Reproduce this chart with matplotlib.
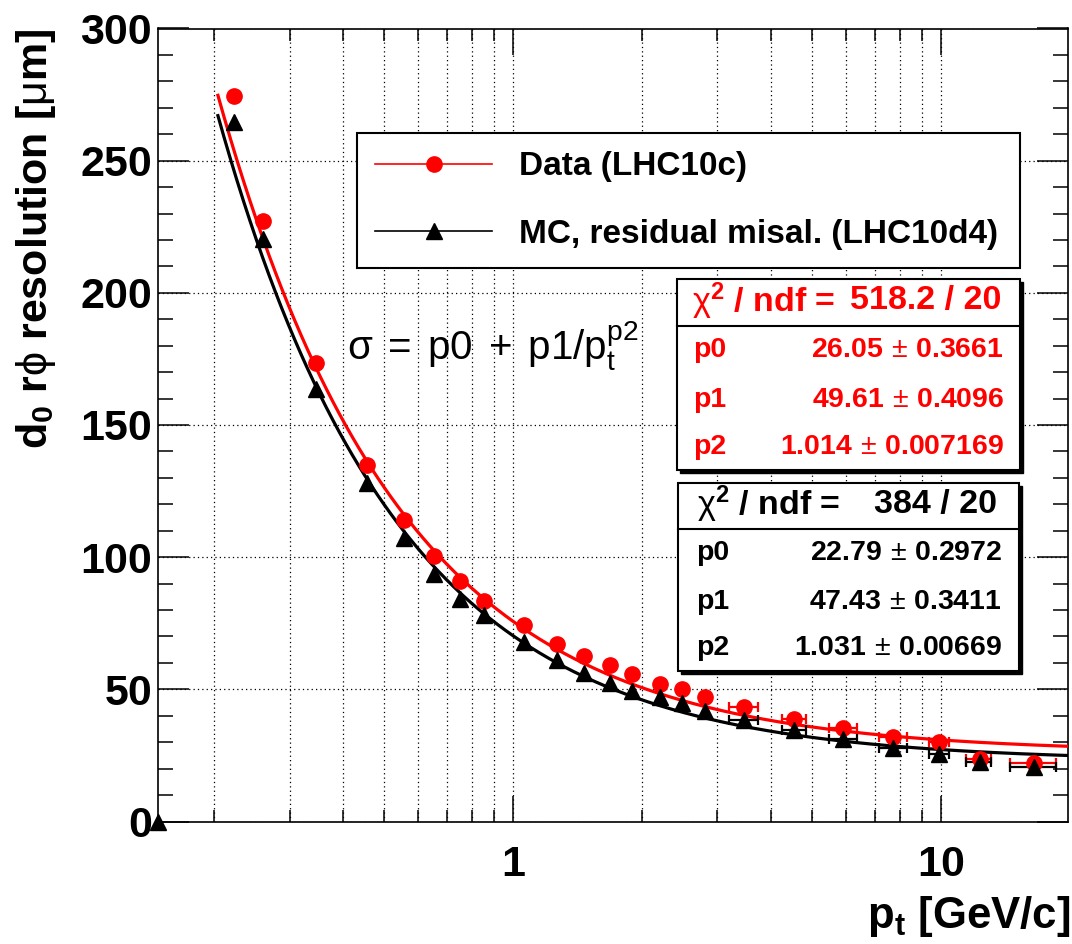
import numpy as np
import matplotlib
matplotlib.use("Agg")
import matplotlib.pyplot as plt
from matplotlib.patches import Rectangle
from matplotlib.lines import Line2D
from matplotlib.ticker import LogLocator, MultipleLocator, NullFormatter, FuncFormatter

plt.rcParams["font.family"] = ["Liberation Sans", "DejaVu Sans"]
plt.rcParams["font.weight"] = "bold"
plt.rcParams["mathtext.fontset"] = "custom"
plt.rcParams["mathtext.rm"] = "Liberation Sans:weight=normal"
plt.rcParams["mathtext.bf"] = "Liberation Sans:weight=bold"
plt.rcParams["mathtext.it"] = "Liberation Sans:italic:weight=normal"
plt.rcParams["mathtext.fallback"] = "stixsans"

# ------------ data -------------------------------
pt = [0.222, 0.26, 0.346, 0.454, 0.554, 0.654, 0.751, 0.853, 1.057, 1.266,
      1.466, 1.687, 1.897, 2.198, 2.483, 2.80, 3.46, 4.535, 5.885, 7.70,
      9.91, 12.3, 16.5]
data_sigma = [274.6, 227.3, 173.4, 135.0, 113.9, 100.3, 90.9, 83.4, 74.3, 67.3,
              62.5, 59.1, 55.7, 52.2, 50.1, 47.2, 43.4, 38.6, 35.2, 31.8,
              30.2, 23.6, 22.2]
mc_sigma = [264.5, 220.4, 163.7, 128.0, 107.4, 93.8, 84.0, 78.0, 67.9, 61.0,
            56.0, 52.5, 49.4, 47.2, 44.7, 41.9, 38.4, 34.6, 31.2, 27.7,
            25.5, 22.6, 20.7]
pt_err_lo = [0] * 16 + [0.27, 0.28, 0.42, 0.54, 0.56, 0.85, 2.0]
pt_err_hi = [0] * 16 + [0.28, 0.30, 0.48, 0.64, 0.52, 0.80, 2.1]

# empty MC bin drawn on the left edge
mc_edge_pt = [0.148]
mc_edge_sigma = [0.0]

# fit sigma = p0 + p1 / pt^p2
par_names = ["p0", "p1", "p2"]
data_par = [26.05, 49.61, 1.014]
data_par_err = [0.3661, 0.4096, 0.007169]
mc_par = [22.79, 47.43, 1.031]
mc_par_err = [0.2972, 0.3411, 0.00669]
data_chi2, mc_chi2, ndf = 518.2, 384, 20
fit_range = (0.204, 19.8)

W, H = 1072, 944


def fpx(x, y):
    return x / W, 1 - y / H


fig = plt.figure(figsize=(W / 100, H / 100), dpi=100)
ax = fig.add_axes([158.3 / W, 1 - 821.5 / H, (1068 - 158.3) / W, (821.5 - 28.5) / H])
ax.set_xscale("log")
ax.set_xlim(0.148, 19.8)
ax.set_ylim(0, 300)

ax.xaxis.set_major_locator(LogLocator(base=10))
ax.xaxis.set_minor_locator(LogLocator(base=10, subs=np.arange(2, 10)))
ax.xaxis.set_minor_formatter(NullFormatter())
ax.xaxis.set_major_formatter(FuncFormatter(lambda v, _: f"{v:g}"))
ax.yaxis.set_major_locator(MultipleLocator(50))
ax.yaxis.set_minor_locator(MultipleLocator(10))

grid_style = dict(color="black", linestyle=(0, (1, 2.5)), linewidth=0.9)
ax.grid(axis="x", which="both", **grid_style)
ax.grid(axis="y", which="major", **grid_style)
ax.set_axisbelow(True)

ax.tick_params(which="both", direction="in", top=True, right=True, width=1.1)
ax.tick_params(axis="x", which="major", length=19, pad=17, labelsize=31)
ax.tick_params(axis="x", which="minor", length=8.6)
ax.tick_params(axis="y", which="major", length=22, pad=4.5, labelsize=31)
ax.tick_params(axis="y", which="minor", length=11)
for sp in ax.spines.values():
    sp.set_linewidth(1.2)

# fit curves
xf = np.geomspace(fit_range[0], fit_range[1], 400)
ax.plot(xf, data_par[0] + data_par[1] / xf ** data_par[2], color="red", lw=2.3, zorder=3)
ax.plot(xf, mc_par[0] + mc_par[1] / xf ** mc_par[2], color="black", lw=2.3, zorder=3)

# points
ax.errorbar(pt, data_sigma, xerr=[pt_err_lo, pt_err_hi], fmt="none", ecolor="red",
            elinewidth=1.6, capsize=3.5, capthick=1.6, zorder=4)
ax.errorbar(pt, mc_sigma, xerr=[pt_err_lo, pt_err_hi], fmt="none", ecolor="black",
            elinewidth=1.6, capsize=3.5, capthick=1.6, zorder=4)
ax.plot(pt, data_sigma, "o", color="red", ms=11, zorder=5)
ax.plot(pt, mc_sigma, "^", color="black", ms=11.5, zorder=6)
ax.plot(mc_edge_pt, mc_edge_sigma, "^", color="black", ms=11.5, zorder=6, clip_on=False)

# legend
handles = [Line2D([], [], color="red", marker="o", ms=11, lw=1.2),
           Line2D([], [], color="black", marker="^", ms=11.5, lw=1.2)]
x0, y0 = fpx(357, 266)
x1, y1 = fpx(1020, 133)
leg = ax.legend(handles, ["Data (LHC10c)", "MC, residual misal. (LHC10d4)"],
                loc="upper left", bbox_to_anchor=(x0, y0, x1 - x0, y1 - y0),
                bbox_transform=fig.transFigure, mode="expand", fontsize=24,
                frameon=True, fancybox=False, edgecolor="black", framealpha=1,
                borderpad=0.55, labelspacing=1.1, handlelength=3.5,
                handletextpad=0.8, borderaxespad=0)
leg.get_frame().set_linewidth(1.5)
for t in leg.get_texts():
    t.set_fontweight("bold")


# stat boxes
def stat_box(left, top, right, bottom, sep, color, chi2, pars, errs, rows_y, head_y,
             head_left, head_right, lab_x, val_x):
    x_a, y_a = fpx(left, bottom)
    x_b, y_b = fpx(right, top)
    dx, dy = 3 / W, 3 / H
    fig.add_artist(Rectangle((x_a + dx, y_a - dy), x_b - x_a, y_b - y_a,
                             transform=fig.transFigure, facecolor="black",
                             edgecolor="black", zorder=10))
    fig.add_artist(Rectangle((x_a, y_a), x_b - x_a, y_b - y_a,
                             transform=fig.transFigure, facecolor="white",
                             edgecolor="black", lw=1.5, zorder=11))
    fig.add_artist(Line2D([x_a, x_b], [fpx(0, sep)[1]] * 2, color="black",
                          lw=1.5, transform=fig.transFigure, zorder=12))
    fig.text(*fpx(head_left, head_y), r"$\mathrm{\chi}^{\mathbf{2}}$ / ndf =",
             color=color, fontsize=24.5, ha="left", va="center", zorder=13)
    fig.text(*fpx(head_right, head_y), f"{chi2:g} / {ndf}", color=color,
             fontsize=24.5, ha="right", va="center", zorder=13)
    for name, v, e, yy in zip(par_names, pars, errs, rows_y):
        fig.text(*fpx(lab_x, yy), name, color=color, fontsize=20.5,
                 ha="left", va="center", zorder=13)
        fig.text(*fpx(val_x, yy), rf"$\mathbf{{{v}}}\,\pm\,\mathbf{{{e}}}$",
                 color=color, fontsize=20.5, ha="right", va="center", zorder=13)


stat_box(677, 279, 1020, 470, 326, "red", data_chi2, data_par, data_par_err,
         [350, 400, 447], 301, 692, 1001, 693, 1004)
stat_box(678, 483, 1019, 671, 529, "black", mc_chi2, mc_par, mc_par_err,
         [553, 602, 648], 504, 697, 997, 696, 1002)

# formula
fig.text(*fpx(347, 360),
         r"$\mathrm{\sigma}\;=\;\mathrm{p0}\;+\;\mathrm{p1/p}_{\mathrm{t}}^{\mathrm{p2}}$",
         fontsize=29, fontweight="normal", ha="left", va="baseline")

# axis titles
fig.text(*fpx(36, 28.5), r"d$_{\mathbf{0}}$ r$\mathrm{\phi}$ resolution [$\mathrm{\mu}$m]",
         rotation=90, ha="center", va="top", fontsize=31)
fig.text(*fpx(1070, 928), r"p$_{\mathbf{t}}$ [GeV/c]", ha="right",
         va="baseline", fontsize=31.5)

fig.savefig("out.png", dpi=100)
